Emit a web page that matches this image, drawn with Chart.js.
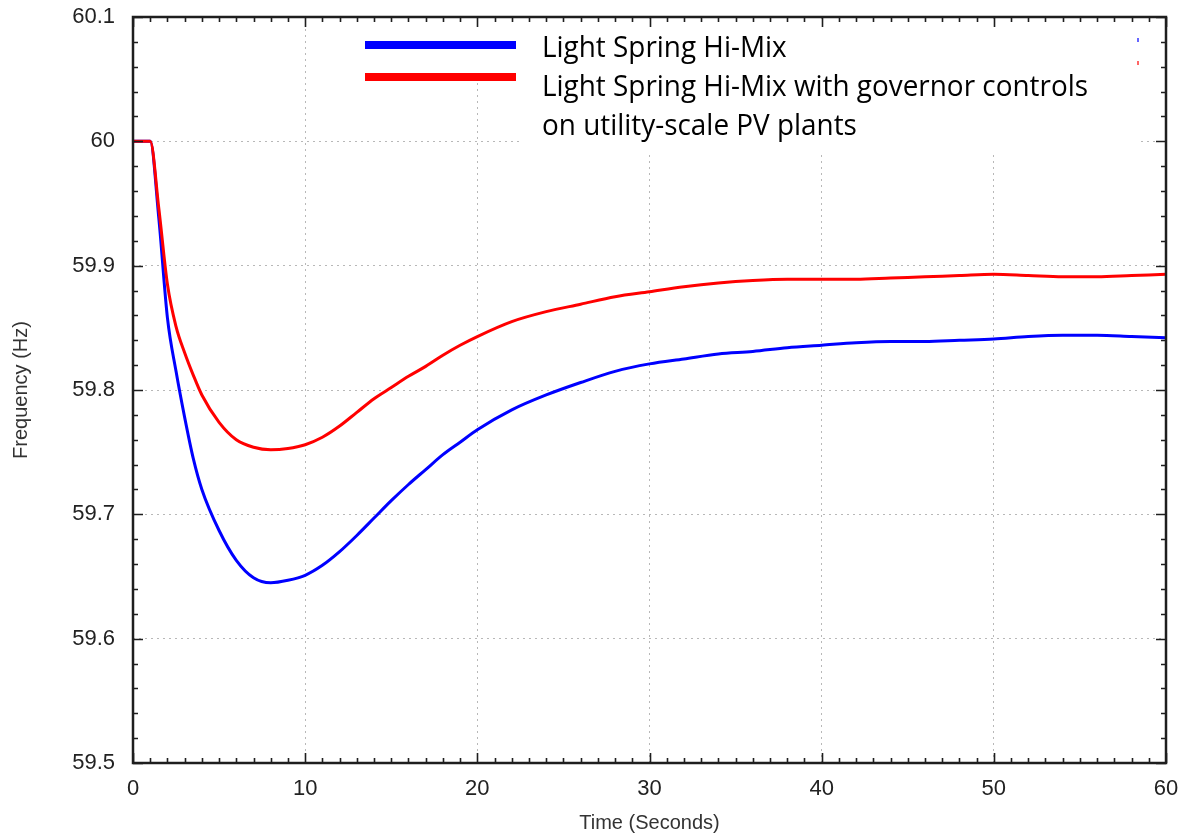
<!DOCTYPE html>
<html>
<head>
<meta charset="utf-8">
<script src="https://cdn.jsdelivr.net/npm/chart.js@4/dist/chart.umd.min.js"></script>
<style>
  html, body { margin: 0; padding: 0; background: #fff; }
  #wrap { width: 1188px; height: 835px; }
</style>
</head>
<body>
<div id="wrap"><canvas id="freqChart"></canvas></div>
<script>
// Frequency response after the event
const timeSeconds = [0, 1, 1.5, 2, 2.5, 3, 3.5, 4, 5, 6, 7, 8, 9, 10, 11, 12, 13, 14, 15, 16, 17, 18, 19, 20,
  22, 24, 26, 28, 30, 32, 34, 36, 38, 40, 42, 44, 46, 48, 50, 52, 54, 56, 58, 60];

const hiMixHz = [60, 60, 59.938, 59.858, 59.815, 59.778, 59.745, 59.720, 59.687, 59.663, 59.649, 59.645, 59.647,
  59.651, 59.659, 59.670, 59.683, 59.697, 59.711, 59.724, 59.736, 59.748, 59.758, 59.768,
  59.784, 59.796, 59.806, 59.815, 59.821, 59.825, 59.829, 59.831, 59.834, 59.836, 59.838, 59.839,
  59.839, 59.840, 59.841, 59.843, 59.844, 59.844, 59.843, 59.842];

const governorHz = [60, 60, 59.946, 59.885, 59.851, 59.830, 59.812, 59.796, 59.774, 59.760, 59.754, 59.752, 59.753,
  59.756, 59.762, 59.771, 59.782, 59.793, 59.802, 59.811, 59.819, 59.828, 59.836, 59.843,
  59.855, 59.863, 59.869, 59.875, 59.879, 59.883, 59.886, 59.888, 59.889, 59.889, 59.889, 59.890,
  59.891, 59.892, 59.893, 59.892, 59.891, 59.891, 59.892, 59.893];

const seriesNames = ["Light Spring Hi-Mix", "Light Spring Hi-Mix with governor controls"];
const legendLines = ["Light Spring Hi-Mix", "Light Spring Hi-Mix with governor controls", "on utility-scale PV plants"];

// White legend box over the grid, with the two colour bars and text
const legendBox = {
  id: "legendBox",
  beforeDatasetsDraw(chart) {
    const ctx = chart.ctx;
    ctx.save();
    ctx.fillStyle = "#fff";
    ctx.fillRect(355, 19, 168, 63);
    ctx.fillRect(522, 19, 615, 136);

    ctx.fillStyle = "#0000ff";
    ctx.fillRect(365, 41, 151, 8);
    ctx.fillStyle = "#ff0000";
    ctx.fillRect(365, 73, 151, 8);

    // leftover sample marks of the original plot key
    ctx.fillStyle = "rgba(0,0,255,0.6)";
    ctx.fillRect(1137, 38, 2, 4);
    ctx.fillStyle = "rgba(255,0,0,0.6)";
    ctx.fillRect(1137, 61, 2, 4);

    ctx.fillStyle = "#000";
    ctx.font = "30px 'Open Sans'";
    ctx.textBaseline = "alphabetic";
    const w = ctx.measureText(legendLines[1]).width;
    const sx = 546 / w;
    const baselines = [57, 96, 135];
    legendLines.forEach((line, i) => {
      ctx.save();
      ctx.translate(542, baselines[i]);
      ctx.scale(sx, 1);
      ctx.fillText(line, 0, 0);
      ctx.restore();
    });
    ctx.restore();
  },
};

// gnuplot style frame with inward ticks on all four sides
const frameTicks = {
  id: "frameTicks",
  afterDraw(chart) {
    const { ctx, chartArea: a, scales: { x, y } } = chart;
    ctx.save();
    ctx.strokeStyle = "#1e1e1e";
    ctx.lineWidth = 1.6;
    ctx.beginPath();
    for (let t = 0; t <= 60; t++) {
      const px = Math.round(x.getPixelForValue(t)) + 0.5;
      const len = t % 10 === 0 ? 10 : 5;
      ctx.moveTo(px, a.bottom); ctx.lineTo(px, a.bottom - len);
      ctx.moveTo(px, a.top); ctx.lineTo(px, a.top + len);
    }
    for (let i = 0; i <= 30; i++) {
      const py = Math.round(y.getPixelForValue(59.5 + i * 0.02)) + 0.5;
      const len = i % 5 === 0 ? 10 : 5;
      ctx.moveTo(a.left, py); ctx.lineTo(a.left + len, py);
      ctx.moveTo(a.right, py); ctx.lineTo(a.right - len, py);
    }
    ctx.stroke();
    ctx.lineWidth = 2.5;
    ctx.strokeRect(a.left, a.top, a.right - a.left, a.bottom - a.top);
    ctx.restore();
  },
};

const tickFont = { family: "'Liberation Sans', Arial, sans-serif", size: 22 };
const titleFont = { family: "'Liberation Sans', Arial, sans-serif", size: 20 };

new Chart(document.getElementById("freqChart"), {
  type: "line",
  data: {
    labels: timeSeconds,
    datasets: [
      {
        label: seriesNames[1],
        data: governorHz,
        borderColor: "#ff0000",
        borderWidth: 3,
        pointRadius: 0,
        cubicInterpolationMode: "monotone",
        order: 0,
      },
      {
        label: seriesNames[0],
        data: hiMixHz,
        borderColor: "#0000ff",
        borderWidth: 3,
        pointRadius: 0,
        cubicInterpolationMode: "monotone",
        order: 1,
      },
    ],
  },
  options: {
    responsive: true,
    maintainAspectRatio: false,
    animation: false,
    layout: { padding: { top: 17, right: 22, left: 0, bottom: 0 } },
    scales: {
      x: {
        type: "linear",
        min: 0,
        max: 60,
        ticks: { stepSize: 10, padding: 13, color: "#222", font: tickFont, maxRotation: 0 },
        grid: {
          drawTicks: false,
          color: (c) => (c.tick && (c.tick.value === 0 || c.tick.value === 60) ? "rgba(0,0,0,0)" : "#b8b8b8"),
          lineWidth: 1,
        },
        border: { display: false, dash: [2, 4] },
        title: {
          display: true,
          text: "Time (Seconds)",
          color: "#333",
          font: titleFont,
          padding: { top: 0, bottom: 0 },
        },
        afterFit: (s) => {
          s.height = 72;
          s.paddingLeft = 0;
          s.paddingRight = 0;
        },
      },
      y: {
        min: 59.5,
        max: 60.1,
        ticks: {
          stepSize: 0.1,
          padding: 18,
          color: "#222",
          font: tickFont,
          callback: (v) => String(+v.toFixed(1)),
        },
        grid: {
          drawTicks: false,
          color: (c) => (c.tick && (Math.abs(c.tick.value - 59.5) < 1e-6 || Math.abs(c.tick.value - 60.1) < 1e-6) ? "rgba(0,0,0,0)" : "#b8b8b8"),
          lineWidth: 1,
        },
        border: { display: false, dash: [2, 4] },
        title: {
          display: true,
          text: "Frequency (Hz)",
          color: "#333",
          font: titleFont,
          padding: { top: 9, bottom: 0 },
        },
        afterFit: (s) => {
          s.width = 133;
          s.paddingTop = 0;
          s.paddingBottom = 0;
        },
      },
    },
    plugins: {
      legend: { display: false },
      tooltip: { enabled: false },
    },
  },
  plugins: [legendBox, frameTicks],
});
</script>
</body>
</html>
